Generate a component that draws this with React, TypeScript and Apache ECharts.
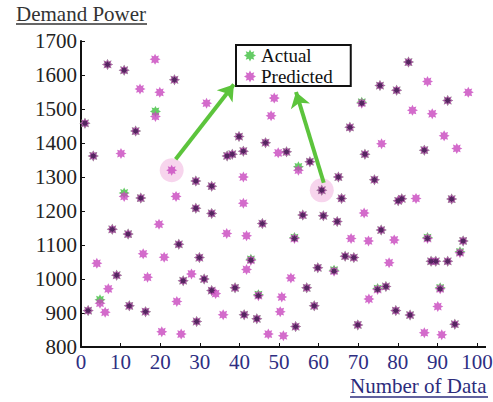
import React, { useEffect, useRef } from "react";
import * as echarts from "echarts";

// ---- data ----
const sampleX = [
  1.0, 1.8, 3.1, 4.0, 4.8, 6.1, 6.7, 6.9, 7.9, 9.0, 10.1, 10.9, 10.9, 11.9, 12.2, 13.8, 14.9, 15.1, 15.7, 16.3,
  16.8, 18.7, 18.8, 19.7, 19.9, 20.4, 21.0, 22.9, 23.6, 24.0, 24.2, 24.7, 25.3, 25.8, 27.9, 29.0, 29.0, 29.2, 29.9, 31.1,
  31.7, 33.0, 33.0, 33.0, 34.0, 35.9, 36.8, 36.9, 38.2, 38.9, 39.9, 41.0, 41.0, 41.0, 41.2, 41.8, 41.8, 42.9, 44.4, 44.8,
  45.8, 46.6, 47.3, 48.0, 48.8, 49.8, 50.3, 50.7, 51.1, 51.9, 53.0, 53.9, 54.2, 54.9, 56.0, 57.0, 57.8, 58.9, 59.8, 60.8,
  61.2, 63.9, 64.7, 65.0, 65.8, 66.7, 67.9, 68.2, 68.9, 69.9, 70.9, 71.5, 71.7, 72.6, 72.7, 74.1, 74.9, 75.5, 75.8, 75.9,
  77.0, 77.8, 79.1, 79.5, 79.7, 80.1, 81.0, 82.7, 83.1, 83.7, 84.6, 86.7, 86.7, 87.5, 87.5, 88.4, 88.7, 89.6, 90.1, 90.7,
  91.1, 91.7, 92.6, 92.6, 93.6, 94.4, 94.9, 95.7, 96.5, 97.8,
];
const actual: (number | null)[] = [
  1458, 907, 1362, null, 939, null, 1631, null, 1146, 1011, null, 1614, 1253, 1132, 921, 1435, null, 1238, null, 904,
  null, null, 1493, null, null, null, null, null, 1586, null, null, 1102, null, 995, null, 1288, 1208, 875, 1063, 1000,
  null, 1273, 1193, 966, null, null, null, 1362, 1367, 974, 1419, 1376, null, null, 895, null, null, 1058, 883, 954,
  1163, 1401, null, null, null, null, null, null, null, 1374, null, 1122, 860, 1330, 1188, 974, 1345, 921, 1033, 1261,
  1186, 1026, 1169, 1300, 1237, 1067, 1446, null, 1063, 865, 1520, null, 1367, null, null, 1292, 972, 1569, 1144, null,
  978, null, null, 907, 1555, 1230, 1236, 1638, 894, null, null, 1379, null, null, 1122, 1052, null, 1052, null, 974,
  null, null, 1525, 1052, 1235, 867, null, 1080, 1112, null,
];
const predicted = [
  1458, 907, 1362, 1046, 929, 902, 1631, 971, 1146, 1011, 1369, 1614, 1243, 1132, 921, 1435, 1559, 1238, 1074, 904,
  1005, 1646, 1478, 1161, 1549, 845, 1064, 1320, 1586, 1243, 934, 1102, 838, 995, 1015, 1288, 1208, 875, 1063, 1000,
  1517, 1273, 1193, 966, 957, 895, 1134, 1362, 1367, 974, 1419, 1376, 1300, 1223, 895, 1127, 1028, 1055, 883, 951,
  1163, 1401, 838, 1480, 1532, 1371, 904, 947, 833, 1374, 1003, 1119, 860, 1320, 1188, 974, 1345, 921, 1033, 1261,
  1186, 1023, 1169, 1300, 1237, 1067, 1446, 1119, 1063, 865, 1517, 1194, 1367, 1112, 941, 1292, 969, 1569, 1144, 1398,
  978, 1048, 1115, 907, 1555, 1230, 1236, 1638, 894, 1496, 1237, 1379, 842, 1581, 1119, 1052, 1486, 1052, 919, 971,
  836, 1421, 1525, 1052, 1235, 867, 1384, 1077, 1112, 1549,
];
const highlightX = [22.9, 60.8];
const highlightY = [1320, 1261];
const arrowStarts = [[23.9, 1352], [61.3, 1283]];
const arrowEnds = [[38.6, 1572], [54.3, 1550]];
const xTicks = { min: 0, max: 100, step: 10 };
const yTicks = { min: 800, max: 1700, step: 100 };

// ---- styling ----
const GREEN = "#3fbf3f";
const MAGENTA = "#c846be";
const DARK = "#4a2058";
const SERIF = "Liberation Serif, Times New Roman, DejaVu Serif, serif";

const starPath = (() => {
  const pts: string[] = [];
  for (let i = 0; i < 16; i++) {
    const a = (i * Math.PI) / 8 - Math.PI / 2;
    const r = i % 2 === 0 ? 50 : 30;
    const x = (50 + r * Math.cos(a)).toFixed(2);
    const y = (50 + r * Math.sin(a)).toFixed(2);
    pts.push((i === 0 ? "M" : "L") + x + " " + y);
  }
  return "path://" + pts.join(" ") + " Z";
})();

export default function App() {
  const ref = useRef<HTMLDivElement>(null);
  useEffect(() => {
    if (!ref.current) return;
    const chart = echarts.init(ref.current, null, { renderer: "svg" });

    const actualData = sampleX
      .map((x, i) => (actual[i] == null ? null : [x, actual[i] as number]))
      .filter((d) => d !== null);
    const predictedData = sampleX.map((x, i) => [x, predicted[i]]);
    const overlapData = sampleX
      .map((x, i) =>
        actual[i] != null && Math.abs((actual[i] as number) - predicted[i]) < 5 ? [x, predicted[i]] : null
      )
      .filter((d) => d !== null);

    chart.setOption({
      animation: false,
      grid: { left: 81, right: 16, top: 41, bottom: 55, containLabel: false, outerBoundsMode: "none" },
      xAxis: {
        type: "value",
        min: xTicks.min,
        max: xTicks.max,
        interval: xTicks.step,
        splitLine: { show: false },
        axisLine: { show: true, lineStyle: { color: "#111", width: 2 } },
        axisTick: { show: true, inside: true, length: 4, lineStyle: { color: "#111" } },
        axisLabel: { fontSize: 21, fontFamily: SERIF, color: "#2e2e82", margin: 4 },
      },
      yAxis: {
        type: "value",
        min: yTicks.min,
        max: yTicks.max,
        interval: yTicks.step,
        splitLine: { show: false },
        axisLine: { show: true, lineStyle: { color: "#111", width: 2 } },
        axisTick: { show: true, inside: true, length: 4, lineStyle: { color: "#111" } },
        axisLabel: {
          fontSize: 21,
          fontFamily: SERIF,
          color: "#222",
          margin: 4,
          formatter: (v: number) => String(v),
        },
      },
      legend: {
        data: ["Actual", "Predicted"],
        orient: "vertical",
        left: 236,
        top: 45,
        padding: [1, 18, 0, 8],
        itemGap: 2,
        itemWidth: 12,
        itemHeight: 12,
        borderColor: "#111",
        borderWidth: 2,
        textStyle: { fontSize: 19, fontFamily: SERIF, color: "#111", lineHeight: 19 },
      },
      series: [
        {
          name: "highlight",
          type: "scatter",
          silent: true,
          z: 1,
          symbol: "circle",
          symbolSize: 24,
          itemStyle: { color: "rgba(236,160,215,0.55)" },
          data: highlightX.map((x, i) => [x, highlightY[i]]),
          markLine: {
            silent: true,
            symbol: ["none", "arrow"],
            symbolSize: 15,
            label: { show: false },
            lineStyle: { color: "#5cc43c", width: 4, type: "solid", opacity: 1 },
            data: arrowStarts.map((s, i) => [{ coord: s }, { coord: arrowEnds[i] }]),
          },
        },
        {
          name: "Actual",
          type: "scatter",
          z: 2,
          symbol: starPath,
          symbolSize: 11,
          itemStyle: { color: GREEN },
          data: actualData,
        },
        {
          name: "Predicted",
          type: "scatter",
          z: 3,
          symbol: starPath,
          symbolSize: 11,
          itemStyle: { color: MAGENTA },
          data: predictedData,
        },
        {
          name: "overlap",
          type: "scatter",
          z: 4,
          silent: true,
          symbol: starPath,
          symbolSize: 7,
          itemStyle: { color: DARK, opacity: 0.9 },
          data: overlapData,
        },
      ],
      graphic: [
        {
          type: "text",
          left: 16,
          top: 3,
          style: { text: "Demand Power", fontSize: 21, fontFamily: SERIF, fill: "#333" },
        },
        { type: "line", shape: { x1: 16, y1: 24, x2: 147, y2: 24 }, style: { stroke: "#333", lineWidth: 1.5 } },
        {
          type: "text",
          left: 350,
          top: 375,
          style: { text: "Number of Data", fontSize: 21, fontFamily: SERIF, fill: "#2c2c7c" },
        },
        { type: "line", shape: { x1: 350, y1: 397, x2: 488, y2: 397 }, style: { stroke: "#2c2c7c", lineWidth: 1.5 } },
        { type: "line", shape: { x1: 476, y1: 347, x2: 486, y2: 347 }, style: { stroke: "#111", lineWidth: 2 } },
      ],
    });
    return () => chart.dispose();
  }, []);
  return (
    <div
      ref={ref}
      style={{ position: "fixed", left: 0, top: 0, width: 493, height: 402, background: "#fff" }}
    />
  );
}
